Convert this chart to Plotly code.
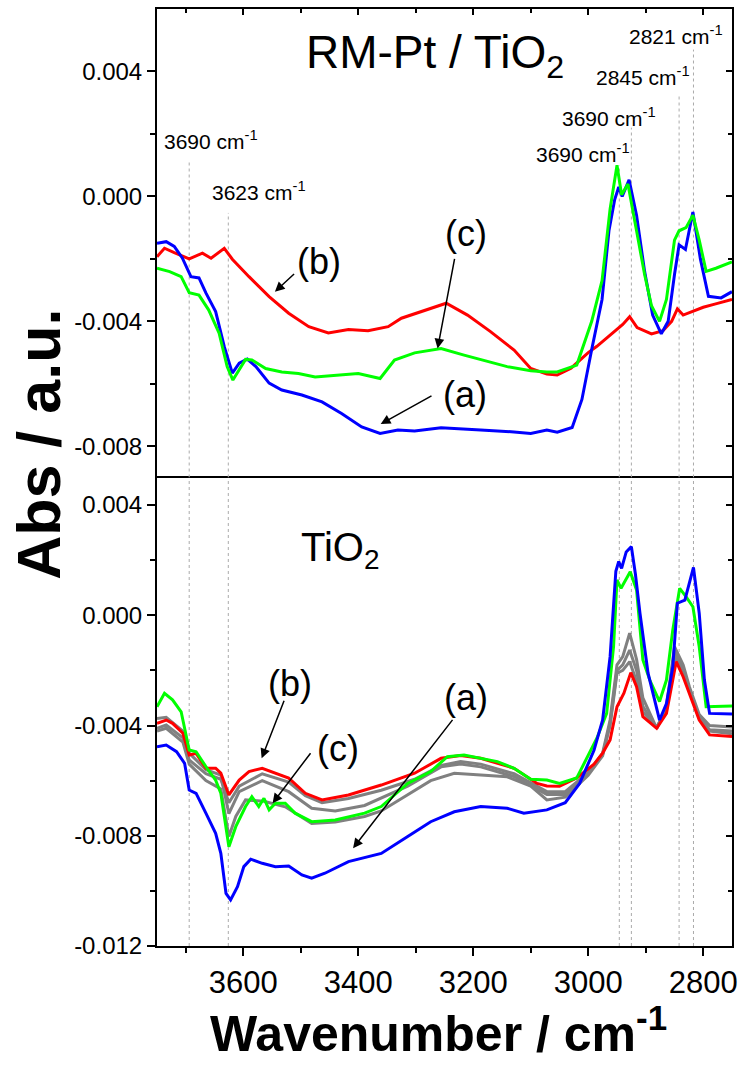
import plotly.graph_objects as go

# ---------------- data (absorbance in units of 1e-3) ----------------
# Top panel: RM-Pt / TiO2
top_blue_w = [3750, 3734, 3720, 3706, 3691, 3677, 3665, 3648, 3633, 3619, 3607, 3593, 3578, 3555, 3533,
              3498, 3463, 3429, 3394, 3362, 3331, 3302, 3256, 3216, 3187, 3129, 3100, 3072, 3054, 3028,
              3011, 2994, 2976, 2964, 2954, 2947, 2941, 2929, 2916, 2902, 2888, 2873, 2861, 2850, 2842,
              2831, 2818, 2805, 2791, 2769, 2750]
top_blue_v = [-1.50, -1.45, -1.60, -1.97, -2.57, -2.61, -3.09, -3.69, -4.81, -5.66, -5.34, -5.21, -5.45, -5.98, -6.20,
              -6.36, -6.58, -6.95, -7.38, -7.59, -7.48, -7.51, -7.41, -7.46, -7.48, -7.54, -7.59, -7.48, -7.55, -7.40,
              -6.50, -4.90, -3.30, -1.10, -0.10, 0.30, 0.00, 0.53, -0.60, -2.40, -3.80, -4.40, -4.00, -2.50, -1.55,
              -1.70, -0.50, -2.00, -3.20, -3.25, -3.05]

top_green_w = [3750, 3728, 3708, 3694, 3677, 3660, 3642, 3628, 3618, 3607, 3596, 3585, 3561, 3533, 3504,
               3475, 3440, 3400, 3362, 3337, 3302, 3256, 3216, 3175, 3141, 3100, 3072, 3054, 3020, 2994,
               2976, 2962, 2950, 2942, 2931, 2916, 2902, 2890, 2876, 2864, 2850, 2842, 2830, 2818, 2807,
               2795, 2778, 2750]
top_green_v = [-2.30, -2.41, -2.57, -3.08, -3.16, -3.64, -4.38, -5.45, -5.88, -5.56, -5.22, -5.24, -5.51, -5.62, -5.67,
               -5.78, -5.72, -5.67, -5.83, -5.24, -5.01, -4.87, -5.08, -5.29, -5.45, -5.58, -5.62, -5.62, -5.40, -4.00,
               -2.70, -0.40, 1.00, 0.05, 0.40, -1.10, -2.50, -3.50, -4.00, -3.30, -1.40, -1.10, -1.00, -0.60, -1.40,
               -2.40, -2.30, -2.10]

top_red_w = [3750, 3737, 3720, 3705, 3694, 3671, 3656, 3633, 3619, 3590, 3555, 3521, 3486, 3452, 3417,
             3383, 3348, 3325, 3290, 3256, 3247, 3210, 3170, 3129, 3100, 3072, 3054, 3030, 3000, 2985,
             2960, 2940, 2928, 2915, 2890, 2870, 2855, 2845, 2835, 2820, 2800, 2780, 2750]
top_red_v = [-1.93, -1.66, -1.80, -1.93, -2.00, -1.82, -1.98, -1.66, -2.01, -2.57, -3.21, -3.74, -4.17, -4.37, -4.26,
             -4.30, -4.17, -3.90, -3.69, -3.48, -3.42, -3.80, -4.33, -4.92, -5.51, -5.69, -5.72, -5.50, -5.00, -4.80,
             -4.40, -4.10, -3.85, -4.20, -4.40, -4.30, -4.00, -3.60, -3.80, -3.70, -3.55, -3.45, -3.30]

# Bottom panel: TiO2
bot_blue_w = [3750, 3734, 3716, 3702, 3694, 3682, 3665, 3648, 3639, 3630, 3622, 3610, 3599, 3587, 3567,
              3544, 3521, 3498, 3481, 3458, 3417, 3383, 3360, 3314, 3274, 3233, 3187, 3141, 3112, 3072,
              3040, 3015, 2990, 2975, 2962, 2952, 2947, 2942, 2934, 2925, 2918, 2910, 2896, 2876, 2864,
              2853, 2845, 2832, 2822, 2817, 2807, 2798, 2789, 2750]
bot_blue_v = [-4.77, -4.71, -4.95, -5.37, -6.34, -6.46, -7.18, -7.91, -8.64, -10.09, -10.33, -9.85, -9.12, -8.85, -9.00,
              -9.12, -9.10, -9.42, -9.54, -9.36, -8.94, -8.76, -8.64, -8.03, -7.49, -7.13, -6.94, -7.00, -7.18, -7.06,
              -6.80, -6.10, -4.90, -3.80, -1.50, 1.60, 1.95, 1.70, 2.30, 2.49, 1.50, 0.07, -2.10, -3.80, -3.20,
              -1.87, 0.44, 0.55, 1.30, 1.74, 0.07, -2.35, -3.56, -3.58]

bot_green_w = [3750, 3737, 3723, 3708, 3694, 3682, 3665, 3648, 3639, 3625, 3613, 3596, 3585, 3573, 3564,
               3555, 3544, 3527, 3510, 3481, 3440, 3389, 3360, 3314, 3274, 3245, 3216, 3158, 3129, 3100,
               3072, 3050, 3020, 2985, 2968, 2956, 2950, 2943, 2927, 2916, 2905, 2893, 2876, 2864, 2853,
               2841, 2830, 2818, 2807, 2795, 2750]
bot_green_v = [-3.32, -2.83, -3.07, -3.50, -4.89, -4.95, -5.49, -5.98, -6.46, -8.40, -7.67, -6.94, -6.58, -6.94, -6.64,
               -7.06, -6.82, -6.82, -7.18, -7.49, -7.43, -7.18, -6.94, -6.10, -5.67, -5.13, -5.07, -5.31, -5.55, -5.95,
               -5.98, -6.10, -5.90, -4.46, -3.56, -1.14, 1.28, 0.98, 1.58, 0.92, -1.62, -2.35, -3.13, -2.35, -0.53,
               0.98, 0.68, 0.31, -1.14, -3.32, -3.29]

bot_red_w = [3750, 3734, 3723, 3705, 3694, 3682, 3665, 3648, 3639, 3625, 3607, 3590, 3567, 3544, 3521,
             3492, 3463, 3417, 3360, 3302, 3256, 3222, 3187, 3129, 3089, 3072, 3050, 3020, 2990, 2975,
             2962, 2950, 2938, 2926, 2916, 2905, 2881, 2864, 2847, 2835, 2824, 2807, 2789, 2750]
bot_red_v = [-3.92, -3.80, -3.92, -4.28, -5.07, -5.01, -5.55, -5.55, -5.73, -6.52, -5.98, -5.67, -5.55, -5.73, -5.91,
             -6.46, -6.70, -6.52, -6.16, -5.73, -5.19, -5.09, -5.19, -5.55, -6.10, -6.19, -6.20, -5.90, -5.40, -5.00,
             -4.52, -3.32, -2.83, -2.08, -2.59, -3.68, -4.10, -3.56, -1.68, -2.23, -2.83, -3.80, -4.34, -4.40]

bot_grayA_w = [3750, 3734, 3705, 3694, 3665, 3639, 3625, 3607, 3567, 3521, 3492, 3463, 3417, 3360, 3302,
               3256, 3222, 3187, 3129, 3072, 3040, 3000, 2975, 2962, 2950, 2940, 2928, 2916, 2905, 2881,
               2864, 2850, 2835, 2824, 2807, 2789, 2750]
bot_grayA_v = [-4.10, -3.98, -4.45, -5.25, -5.75, -5.95, -6.80, -6.20, -5.75, -6.05, -6.55, -6.80, -6.65, -6.35, -5.95,
               -5.45, -5.31, -5.40, -5.75, -6.40, -6.40, -5.70, -5.00, -3.80, -1.80, -1.50, -0.65, -1.60, -3.00, -4.10,
               -3.30, -1.14, -1.80, -2.60, -3.60, -4.00, -4.05]

bot_grayB_w = [3750, 3734, 3705, 3694, 3665, 3639, 3625, 3613, 3596, 3564, 3527, 3481, 3440, 3389, 3360,
               3314, 3274, 3233, 3187, 3141, 3100, 3072, 3040, 3000, 2975, 2962, 2950, 2940, 2928, 2916,
               2905, 2881, 2864, 2850, 2835, 2824, 2807, 2789, 2750]
bot_grayB_v = [-4.20, -4.10, -4.60, -5.40, -6.00, -6.30, -8.03, -7.30, -6.70, -6.75, -6.95, -7.55, -7.50, -7.30, -7.10,
               -6.50, -6.00, -5.73, -5.80, -5.86, -6.20, -6.70, -6.60, -5.80, -5.10, -3.90, -2.00, -1.80, -1.26, -2.00,
               -3.30, -4.10, -3.40, -1.32, -1.90, -2.70, -3.70, -4.15, -4.20]

bot_grayC_w = [3750, 3734, 3705, 3694, 3665, 3639, 3625, 3607, 3567, 3521, 3481, 3440, 3389, 3314, 3256,
               3222, 3187, 3129, 3072, 3040, 3000, 2975, 2962, 2950, 2940, 2928, 2916, 2905, 2881, 2864,
               2850, 2835, 2824, 2807, 2789, 2750]
bot_grayC_v = [-3.75, -3.70, -4.20, -5.00, -5.60, -5.80, -7.20, -6.40, -6.00, -6.40, -7.00, -7.10, -6.90, -6.20, -5.50,
               -5.40, -5.50, -5.85, -6.50, -6.50, -5.75, -5.05, -4.00, -2.10, -2.00, -1.68, -2.40, -3.50, -4.05, -3.45,
               -1.50, -2.00, -2.70, -3.75, -4.20, -4.30]

# reference band positions (cm-1) and their labels
band_w = [3694, 3626, 2946, 2925, 2842, 2817]
band_top_start = [1.12, -0.53, 1.0, 2.2, 3.25, 4.7]
band_labels = ["3690 cm<sup>-1</sup>", "3623 cm<sup>-1</sup>", "3690 cm<sup>-1</sup>",
               "3690 cm<sup>-1</sup>", "2845 cm<sup>-1</sup>", "2821 cm<sup>-1</sup>"]
band_label_pos = [(3656, 1.81), (3573, 0.18), (3009, 1.39), (2964, 2.55), (2904, 3.86), (2847, 5.18)]

x_tickvals = [3600, 3400, 3200, 3000, 2800]
x_minorvals = [3700, 3500, 3300, 3100, 2900]
top_tickvals = [0.004, 0.000, -0.004, -0.008]
top_ticktext = ["0.004", "0.000", "-0.004", "-0.008"]
top_minorvals = [0.002, -0.002, -0.006]
bot_tickvals = [0.004, 0.000, -0.004, -0.008, -0.012]
bot_ticktext = ["0.004", "0.000", "-0.004", "-0.008", "-0.012"]
bot_minorvals = [0.002, -0.002, -0.006, -0.010]

BLUE, RED, GREEN, GRAY = "#0000ff", "#ff0000", "#00ff00", "#808080"
FONT = "Liberation Sans, Arial, sans-serif"


def m(vals):
    return [v * 1e-3 for v in vals]


fig = go.Figure()

# bottom panel traces (x, y)
for w, v, c in [(bot_grayC_w, bot_grayC_v, GRAY), (bot_grayB_w, bot_grayB_v, GRAY),
                (bot_grayA_w, bot_grayA_v, GRAY), (bot_red_w, bot_red_v, RED),
                (bot_green_w, bot_green_v, GREEN), (bot_blue_w, bot_blue_v, BLUE)]:
    fig.add_trace(go.Scatter(x=w, y=m(v), mode="lines", line=dict(color=c, width=3),
                             xaxis="x", yaxis="y", showlegend=False, hoverinfo="skip"))

# top panel traces (x2, y2)
for w, v, c in [(top_red_w, top_red_v, RED), (top_blue_w, top_blue_v, BLUE),
                (top_green_w, top_green_v, GREEN)]:
    fig.add_trace(go.Scatter(x=w, y=m(v), mode="lines", line=dict(color=c, width=3),
                             xaxis="x2", yaxis="y2", showlegend=False, hoverinfo="skip"))

# empty traces so the overlay axes (inward mirror ticks) are drawn
fig.add_trace(go.Scatter(x=[], y=[], xaxis="x", yaxis="y3", showlegend=False))
fig.add_trace(go.Scatter(x=[], y=[], xaxis="x2", yaxis="y4", showlegend=False))
fig.add_trace(go.Scatter(x=[], y=[], xaxis="x3", yaxis="y2", showlegend=False))

XR = [3750, 2750]
TOPR = [-0.009, 0.006]
BOTR = [-0.012, 0.005]
tickfont = dict(family=FONT, size=24, color="black")
noline = dict(showgrid=False, zeroline=False)

shapes = []
for w, s in zip(band_w, band_top_start):
    shapes.append(dict(type="line", xref="x2", yref="y2", x0=w, x1=w, y0=TOPR[0], y1=s * 1e-3,
                       line=dict(color="#aaaaaa", width=1, dash="dot"), layer="below"))
    shapes.append(dict(type="line", xref="x", yref="y", x0=w, x1=w, y0=BOTR[0], y1=BOTR[1],
                       line=dict(color="#aaaaaa", width=1, dash="dot"), layer="below"))

annotations = []
for (lx, ly), t in zip(band_label_pos, band_labels):
    annotations.append(dict(x=lx, y=ly * 1e-3, xref="x2", yref="y2", text=t, showarrow=False,
                            xanchor="center", yanchor="middle",
                            font=dict(family=FONT, size=21, color="black")))

# panel titles
annotations.append(dict(x=3267, y=0.0045, xref="x2", yref="y2", text="RM-Pt / TiO<sub>2</sub>",
                        showarrow=False, xanchor="center", yanchor="middle",
                        font=dict(family=FONT, size=46, color="black")))
annotations.append(dict(x=3431, y=0.00236, xref="x", yref="y", text="TiO<sub>2</sub>",
                        showarrow=False, xanchor="center", yanchor="middle",
                        font=dict(family=FONT, size=40, color="black")))

# curve labels with arrows: (label pos, arrow tail, arrow head)
top_marks = [("(b)", (3469, -2.07), (3509, -2.44), (3545, -3.05)),
             ("(c)", (3213, -1.20), (3232, -1.95), (3262, -4.87)),
             ("(a)", (3215, -6.33), (3270, -6.36), (3361, -7.29))]
bot_marks = [("(b)", (3519, -2.46), (3528, -3.05), (3568, -5.19)),
             ("(c)", (3435, -4.85), (3481, -4.95), (3549, -6.82)),
             ("(a)", (3213, -3.00), (3234, -3.74), (3409, -8.45))]
for marks, xr, yr in [(top_marks, "x2", "y2"), (bot_marks, "x", "y")]:
    for txt, (lx, ly), (tx, ty), (hx, hy) in marks:
        annotations.append(dict(x=lx, y=ly * 1e-3, xref=xr, yref=yr, text=txt, showarrow=False,
                                xanchor="center", yanchor="middle",
                                font=dict(family=FONT, size=36, color="black")))
        annotations.append(dict(x=hx, y=hy * 1e-3, xref=xr, yref=yr, ax=tx, ay=ty * 1e-3,
                                axref=xr, ayref=yr, text="", showarrow=True, arrowhead=2,
                                arrowsize=1.3, arrowwidth=1.5, arrowcolor="black"))

# axis titles
annotations.append(dict(x=-0.205, y=0.535, xref="paper", yref="paper", text="<b>Abs / a.u.</b>",
                        textangle=-90, showarrow=False, xanchor="center", yanchor="middle",
                        font=dict(family=FONT, size=61, color="black")))
annotations.append(dict(x=0.49, y=-0.0897, xref="paper", yref="paper",
                        text="<b>Wavenumber / cm<sup>-1</sup></b>", showarrow=False,
                        xanchor="center", yanchor="middle",
                        font=dict(family=FONT, size=50, color="black")))

fig.update_layout(
    width=747, height=1072,
    margin=dict(l=157, r=11, t=9, b=126),
    paper_bgcolor="white", plot_bgcolor="white",
    xaxis=dict(domain=[0, 1], anchor="y", range=XR, tickvals=x_tickvals, ticks="outside",
               ticklen=8, tickwidth=2, tickcolor="black",
               tickfont=dict(family=FONT, size=31, color="black"),
               minor=dict(tickvals=x_minorvals, ticks="outside", ticklen=5,
                          tickwidth=2, tickcolor="black"),
               showline=True, linecolor="black", linewidth=2, mirror=True, **noline),
    yaxis=dict(domain=[0, 0.5], anchor="x", range=BOTR, tickvals=bot_tickvals, ticktext=bot_ticktext,
               ticks="outside", ticklen=8, tickwidth=2, tickcolor="black", tickfont=tickfont,
               minor=dict(tickvals=bot_minorvals, ticks="outside", ticklen=5,
                          tickwidth=2, tickcolor="black"),
               showline=True, linecolor="black", linewidth=2, mirror=True, **noline),
    xaxis2=dict(domain=[0, 1], anchor="y2", range=XR, matches="x", showticklabels=False,
                ticks="", showline=False, **noline),
    yaxis2=dict(domain=[0.5, 1], anchor="x2", range=TOPR, tickvals=top_tickvals, ticktext=top_ticktext,
                ticks="outside", ticklen=8, tickwidth=2, tickcolor="black", tickfont=tickfont,
                minor=dict(tickvals=top_minorvals, ticks="outside", ticklen=5,
                           tickwidth=2, tickcolor="black"),
                showline=True, linecolor="black", linewidth=2, mirror=True, **noline),
    yaxis3=dict(overlaying="y", side="right", anchor="x", range=BOTR, tickvals=bot_tickvals,
                showticklabels=False, ticks="inside", ticklen=6, tickwidth=1.5, tickcolor="black",
                minor=dict(tickvals=bot_minorvals, ticks="inside", ticklen=4,
                           tickwidth=1.5, tickcolor="black"),
                showline=False, **noline),
    yaxis4=dict(overlaying="y2", side="right", anchor="x2", range=TOPR, tickvals=top_tickvals,
                showticklabels=False, ticks="inside", ticklen=6, tickwidth=1.5, tickcolor="black",
                minor=dict(tickvals=top_minorvals, ticks="inside", ticklen=4,
                           tickwidth=1.5, tickcolor="black"),
                showline=False, **noline),
    xaxis3=dict(overlaying="x2", side="top", anchor="y2", range=XR, tickvals=x_tickvals,
                showticklabels=False, ticks="inside", ticklen=6, tickwidth=1.5, tickcolor="black",
                minor=dict(tickvals=x_minorvals, ticks="inside", ticklen=4,
                           tickwidth=1.5, tickcolor="black"),
                showline=True, linecolor="black", linewidth=2, **noline),
    shapes=shapes,
    annotations=annotations,
)

fig.write_html("out.html")
